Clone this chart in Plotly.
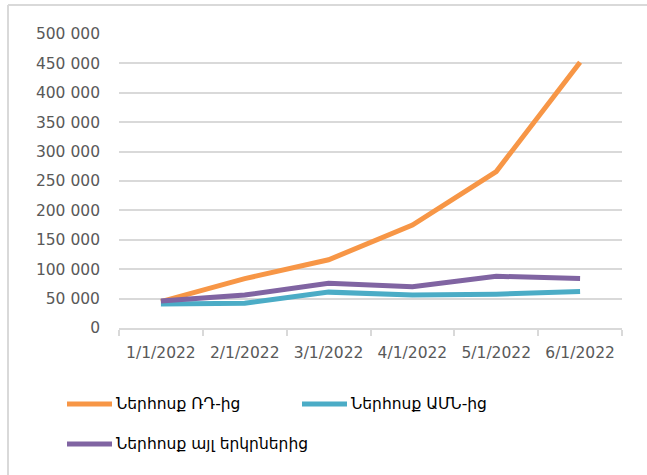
import plotly.graph_objects as go

categories = ["1/1/2022", "2/1/2022", "3/1/2022", "4/1/2022", "5/1/2022", "6/1/2022"]
series_names = ["Ներհոսք ՌԴ-ից", "Ներհոսք ԱՄՆ-ից", "Ներհոսք այլ երկրներից"]
ru_values = [45000, 84000, 116000, 175000, 266000, 452000]
us_values = [41000, 42000, 61000, 56000, 57500, 62000]
other_values = [46000, 56000, 76000, 70000, 88000, 84000]
y_ticks = [0, 50000, 100000, 150000, 200000, 250000, 300000, 350000, 400000, 450000, 500000]
y_tick_labels = ["0", "50 000", "100 000", "150 000", "200 000", "250 000", "300 000",
                 "350 000", "400 000", "450 000", "500 000"]

colors = ["#F79646", "#4BACC6", "#8064A2"]
all_values = [ru_values, us_values, other_values]

W, H = 647, 475
L, R, T, B = 119, 25, 34, 147
PW, PH = W - L - R, H - T - B


def px(x):
    return (x - L) / PW


def py(y):
    return (H - B - y) / PH


fig = go.Figure()
for name, vals, c in zip(series_names, all_values, colors):
    fig.add_trace(go.Scatter(x=categories, y=vals, name=name, mode="lines",
                             line=dict(color=c, width=5), showlegend=False))

shapes = [
    # outer chart border (left and top)
    dict(type="line", xref="paper", yref="paper", x0=px(8), x1=px(8), y0=py(5), y1=py(H + 5),
         line=dict(color="#d9d9d9", width=2)),
    dict(type="line", xref="paper", yref="paper", x0=px(8), x1=px(W + 5), y0=py(5), y1=py(5),
         line=dict(color="#d9d9d9", width=2)),
]
annotations = []
legend_pos = [(67, 404), (302, 404), (67, 444)]
for (lx, ly), name, c in zip(legend_pos, series_names, colors):
    shapes.append(dict(type="line", xref="paper", yref="paper", x0=px(lx), x1=px(lx + 45),
                       y0=py(ly), y1=py(ly), line=dict(color=c, width=5)))
    annotations.append(dict(xref="paper", yref="paper", x=px(lx + 47), y=py(ly), text=name,
                            showarrow=False, xanchor="left", yanchor="middle",
                            font=dict(family="DejaVu Sans", size=15.5, color="#000000")))

fig.update_layout(
    width=W, height=H,
    margin=dict(l=L, r=R, t=T, b=B),
    paper_bgcolor="white", plot_bgcolor="white",
    shapes=shapes, annotations=annotations,
    font=dict(family="DejaVu Sans", size=16, color="#595959"),
)
fig.update_xaxes(type="category", range=[-0.5, 5.5], showgrid=False,
                 showline=True, linecolor="#d9d9d9", linewidth=1.5,
                 ticks="outside", tickson="boundaries", ticklen=6, tickcolor="#d9d9d9",
                 tickwidth=1.5, ticklabelstandoff=10, tickfont=dict(size=15.5, color="#595959"))
fig.update_yaxes(range=[0, 500000], tickvals=y_ticks, ticktext=y_tick_labels,
                 showgrid=True, gridcolor="#d9d9d9", gridwidth=1.5, zeroline=False,
                 showline=False, ticks="", ticklabelstandoff=18,
                 tickfont=dict(size=15.5, color="#595959"))

fig.write_html("out.html", config={"displayModeBar": False},
               post_script="document.body.style.margin='0';document.body.style.overflow='hidden';")
